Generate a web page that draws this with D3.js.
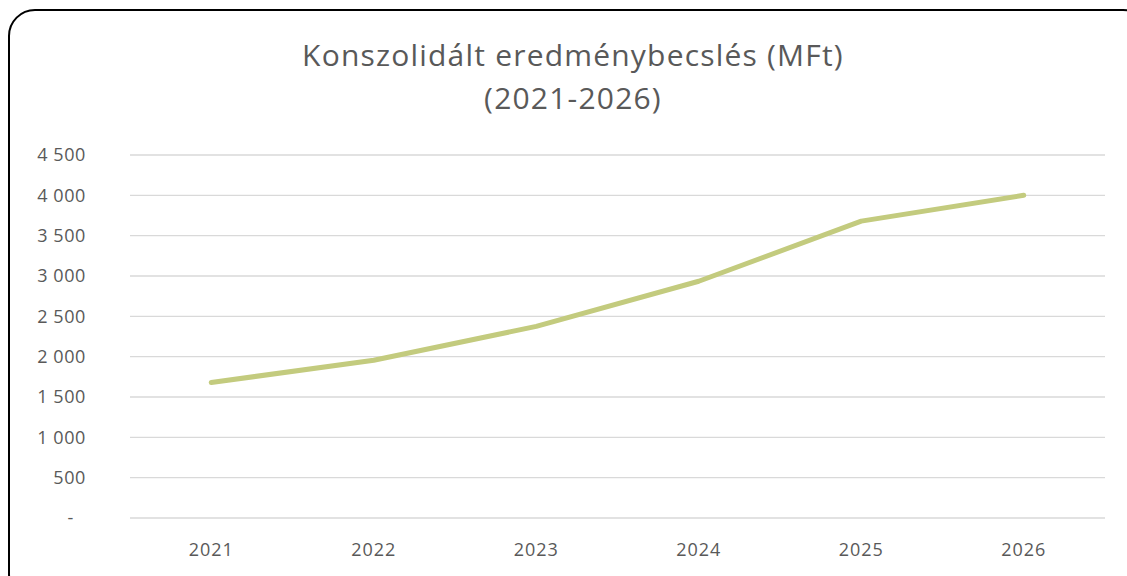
<!DOCTYPE html>
<html>
<head>
<meta charset="utf-8">
<script src="https://cdn.jsdelivr.net/npm/d3@7"></script>
<style>
body{margin:0;background:#fff;}
text{font-family:"Open Sans",sans-serif;fill:#595959;}
</style>
</head>
<body>
<div class="chart"></div>
<script>
var width=1127,
    height=576;

// data
var years=['2021','2022','2023','2024','2025','2026'];
var values=[1680,1955,2375,2935,3680,4000];
var yTicks=[0,500,1000,1500,2000,2500,3000,3500,4000,4500];
var titleLines=['Konszolidált eredménybecslés (MFt)','(2021-2026)'];

var margin={left:130,right:22,top:155,bottom:58};

var svg=d3.select('.chart')
    .append('svg')
        .attr('width',width)
        .attr('height',height);

// chart frame, cut off on the right and bottom like the screenshot
svg.append('rect')
    .attr('x',9)
    .attr('y',10)
    .attr('width',1140)
    .attr('height',590)
    .attr('rx',26)
    .attr('fill','white')
    .attr('stroke','black')
    .attr('stroke-width',2);

var x=d3.scaleBand()
    .domain(years)
    .range([margin.left,width-margin.right]);

var y=d3.scaleLinear()
    .domain([0,4500])
    .range([height-margin.bottom,margin.top]);

svg.append('g')
    .selectAll('line')
    .data(yTicks)
    .enter()
    .append('line')
    .attr('x1',margin.left)
    .attr('x2',width-margin.right)
    .attr('y1',d=>y(d))
    .attr('y2',d=>y(d))
    .attr('stroke','#d9d9d9')
    .attr('stroke-width',1.3);

var fmt=d=>d===0?'-':d3.format(',')(d).replace(',',' ');

svg.append('g')
    .selectAll('text')
    .data(yTicks)
    .enter()
    .append('text')
    .attr('x',d=>d===0?74:86)
    .attr('y',d=>y(d))
    .attr('dy','0.35em')
    .attr('text-anchor','end')
    .style('font-size','18px')
    .style('letter-spacing','0.6px')
    .text(fmt);

svg.append('g')
    .selectAll('text')
    .data(years)
    .enter()
    .append('text')
    .attr('x',d=>x(d)+x.bandwidth()/2)
    .attr('y',height-margin.bottom+38)
    .attr('text-anchor','middle')
    .style('font-size','18px')
    .style('letter-spacing','1px')
    .text(d=>d);

var line=d3.line()
    .x((d,i)=>x(years[i])+x.bandwidth()/2)
    .y(d=>y(d));

svg.append('path')
    .datum(values)
    .attr('d',line)
    .attr('fill','none')
    .attr('stroke','#c3cb7e')
    .attr('stroke-width',5)
    .attr('stroke-linecap','round')
    .attr('stroke-linejoin','round');

svg.append('g')
    .selectAll('text')
    .data(titleLines)
    .enter()
    .append('text')
    .attr('x',573)
    .attr('y',(d,i)=>66+i*43)
    .attr('text-anchor','middle')
    .style('font-size','30px')
    .style('letter-spacing','1.2px')
    .text(d=>d);
</script>
</body>
</html>
